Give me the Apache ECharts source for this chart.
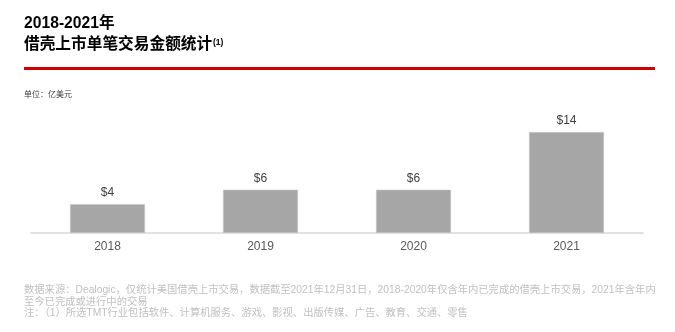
<!DOCTYPE html>
<html>
<head>
<meta charset="utf-8">
<script src="https://cdn.jsdelivr.net/npm/echarts@6/dist/echarts.min.js"></script>
<style>
  html, body { margin: 0; padding: 0; background: #fff; }
  #chart { width: 675px; height: 332px; }
</style>
</head>
<body>
<div id="chart"></div>
<script>
// 借壳上市单笔交易金额（亿美元）
const years = ['2018', '2019', '2020', '2021'];
const dealSize = [4, 6, 6, 14];

const titleLine1 = '2018-2021年';
const titleLine2 = '借壳上市单笔交易金额统计';
const titleNote = '(1)';
const unitText = '单位：亿美元';
const sourceLines = [
  '数据来源：Dealogic，仅统计美国借壳上市交易，数据截至2021年12月31日，2018-2020年仅含年内已完成的借壳上市交易，2021年含年内',
  '至今已完成或进行中的交易',
  '注：（1）所选TMT行业包括软件、计算机服务、游戏、影视、出版传媒、广告、教育、交通、零售'
];

const FONT = '"Liberation Sans", Arial, "Noto Sans CJK SC", sans-serif';

const chart = echarts.init(document.getElementById('chart'), null, { renderer: 'canvas' });

const graphics = [
  { type: 'text', left: 24, top: 16, style: { text: titleLine1, font: 'bold 15.7px ' + FONT, fill: '#000' } },
  { type: 'text', left: 24, top: 37, style: { text: titleLine2, font: 'bold 15.7px ' + FONT, fill: '#000' } },
  { type: 'text', left: 213, top: 38, style: { text: titleNote, font: 'bold 8.5px ' + FONT, fill: '#000' } },
  { type: 'rect', left: 24, top: 67, shape: { width: 631, height: 3 }, style: { fill: '#cc0000' } },
  { type: 'text', left: 24, top: 91, style: { text: unitText, font: '8px ' + FONT, fill: '#404040' } }
];
sourceLines.forEach(function (line, i) {
  graphics.push({
    type: 'text', left: 24, top: 285 + i * 11.7,
    style: { text: line, font: '10.3px ' + FONT, fill: '#c0c0c0' }
  });
});

chart.setOption({
  animation: false,
  grid: { left: 31, right: 32, top: 132, bottom: 99 },
  xAxis: {
    type: 'category',
    data: years,
    axisLine: { show: true, lineStyle: { color: '#d9d9d9', width: 1.5 } },
    axisTick: { show: false },
    axisLabel: { color: '#595959', fontSize: 12, fontFamily: FONT, margin: 8 }
  },
  yAxis: {
    type: 'value', min: 0, max: 14,
    show: false,
    splitLine: { show: false }
  },
  series: [{
    type: 'bar',
    data: dealSize,
    barWidth: '49%',
    itemStyle: { color: '#a6a6a6', borderColor: '#c8c8c8', borderWidth: 0.6 },
    label: {
      show: true, position: 'top', distance: 5,
      color: '#404040', fontSize: 12, fontFamily: FONT,
      formatter: function (p) { return '$' + Math.round(p.value); }
    }
  }],
  graphic: graphics
});
</script>
</body>
</html>
